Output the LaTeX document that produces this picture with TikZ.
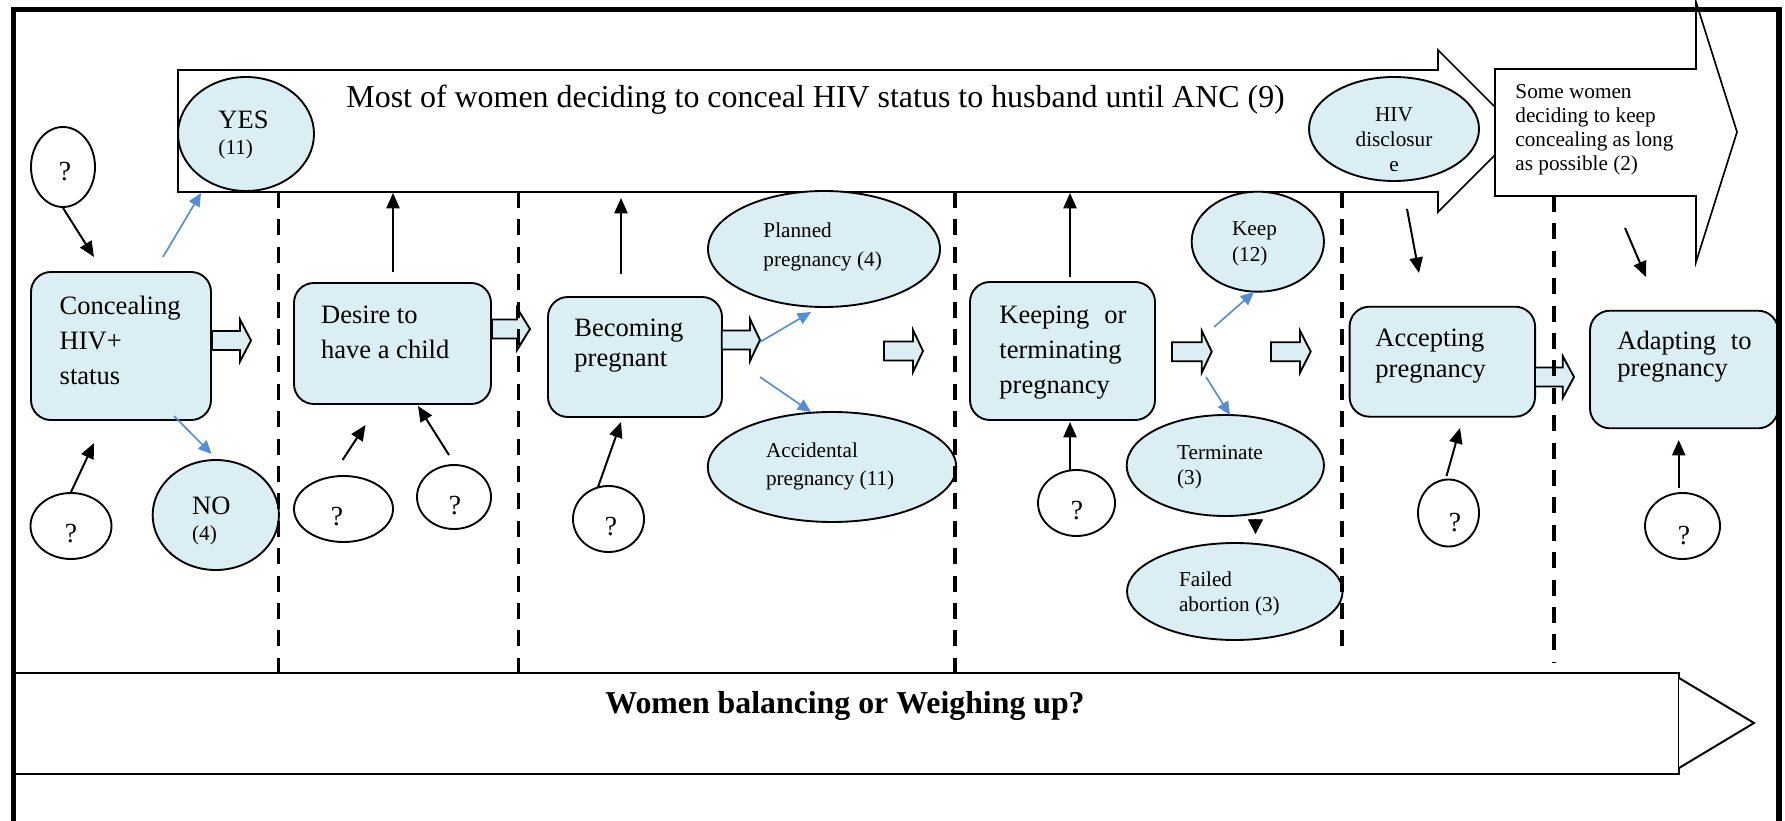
\documentclass[tikz,border=0pt]{standalone}
\usepackage{fontspec}
\setmainfont{Liberation Serif}
\usetikzlibrary{shapes.geometric,arrows.meta}
\definecolor{lb}{HTML}{DAEEF3}
\definecolor{ab}{RGB}{84,141,212}
\newcommand\px{0.4525pt}
\newcommand\blockarr[4]{\draw[blk] (#1,#4-9.5) -- (#2,#4-9.5) -- (#2,#4-21) -- (#3,#4) -- (#2,#4+21) -- (#2,#4+9.5) -- (#1,#4+9.5) -- cycle;}
\begin{document}
\begin{tikzpicture}[x=0.4525pt,y=-0.4525pt,
  box/.style={draw, line width=0.85pt, fill=lb, rounded corners=9pt, inner sep=0pt},
  bell/.style={ellipse, draw, line width=0.85pt, fill=lb, inner sep=0pt},
  qell/.style={ellipse, draw, line width=0.85pt, fill=white, inner sep=0pt},
  big/.style={font=\fontsize{12}{14}\selectfont, inner sep=0pt, anchor=base west},
  small/.style={font=\fontsize{9.6}{11}\selectfont, inner sep=0pt, anchor=base west},
  qtxt/.style={font=\fontsize{12.5}{14}\selectfont, inner sep=0pt, anchor=base},
  arr/.style={line width=0.9pt, -{Triangle[length=7pt,width=6pt]}},
  barr/.style={line width=0.75pt, ab, -{Triangle[length=6pt,width=5.4pt]}},
  blk/.style={draw, line width=0.85pt, fill=lb, line join=miter},
  vdash/.style={line width=1.7pt, dash pattern=on 7.2pt off 5.2pt},
]
\useasboundingbox (0,0) rectangle (1785,821);
\clip (0,0) rectangle (1785,821);

% top banner arrow
\draw[line width=0.75pt, fill=white, line join=miter] (178,70) -- (1438,70) -- (1438,50) -- (1519,131) -- (1438,212) -- (1438,192) -- (178,192) -- cycle;
\node[font=\fontsize{14.45}{17}\selectfont, anchor=base west, inner sep=0pt] (bantxt) at (346,108) {Most of women deciding to conceal HIV status to husband until ANC (9)};

% some women block arrow
\draw[line width=0.75pt, fill=white, line join=miter] (1495,69) -- (1696,69) -- (1696,2) -- (1737,132) -- (1696,262) -- (1696,196) -- (1495,196) -- cycle;
\node[small] (sw1) at (1515,98.3) {Some women};
\node[small] (sw2) at (1515,122.7) {deciding to keep};
\node[small] (sw3) at (1515,146.7) {concealing as long};
\node[small] (sw4) at (1515,170.7) {as possible (2)};

% bottom arrow
\draw[line width=0.9pt, fill=white] (13.5,673) rectangle (1679,774);
\draw[line width=0.9pt, fill=white, line join=miter] (1679,678) -- (1754,723) -- (1679,768);
\node[font=\fontsize{14.4}{17}\selectfont\bfseries, anchor=base west, inner sep=0pt] (weigh) at (605,713) {Women balancing or Weighing up?};

% main boxes
\node[box, minimum width=180*\px, minimum height=148*\px] (conc) at (121,346) {};
\node[box, minimum width=197*\px, minimum height=121*\px] (desire) at (392.5,343.5) {};
\node[box, minimum width=174*\px, minimum height=120*\px] (becom) at (635,357) {};
\node[box, minimum width=185*\px, minimum height=138*\px] (keeping) at (1062.5,351) {};
\node[box, minimum width=185.5*\px, minimum height=110*\px] (accept) at (1442.3,361.7) {};
\node[box, minimum width=188*\px, minimum height=117.6*\px] (adapt) at (1684,369.5) {};

\node[big] at (59.3,315) {Concealing};
\node[big] at (59.3,350) {HIV+};
\node[big] at (59.3,385) {status};
\node[big] at (320.7,323.3) {Desire to};
\node[big] at (320.7,358.3) {have a child};
\node[big] at (574,336.7) {Becoming};
\node[big] at (574,367) {pregnant};
\node[big] at (999,323.3) {Keeping};
\node[big, anchor=base east] at (1127,323.3) {or};
\node[big] at (999,358.3) {terminating};
\node[big] at (999,393.3) {pregnancy};
\node[big] at (1375,346.7) {Accepting};
\node[big] at (1375,377.3) {pregnancy};
\node[big] at (1617,349.3) {Adapting};
\node[big, anchor=base east] at (1752,349.3) {to};
\node[big] at (1617,377) {pregnancy};

% blue ellipses
\node[bell, minimum width=136*\px, minimum height=114*\px] (yes) at (246,134) {};
\node[big] at (218,128.3) {YES};
\node[small] at (218,155) {(11)};
\node[bell, minimum width=126.3*\px, minimum height=110*\px] (no) at (215.8,515) {};
\node[big] at (191.7,514) {NO};
\node[small] at (191.7,540) {(4)};
\node[bell, minimum width=232*\px, minimum height=116*\px] (planned) at (824,249) {};
\node[small] at (763,237.3) {Planned};
\node[small] at (763,266.7) {pregnancy (4)};
\node[bell, minimum width=248.5*\px, minimum height=110*\px] (accid) at (832,467) {};
\node[small] at (765.6,457.3) {Accidental};
\node[small] at (765.6,486) {pregnancy (11)};
\node[bell, minimum width=170*\px, minimum height=104*\px] (hiv) at (1394,129) {};
\node[small, anchor=base] at (1394,122) {HIV};
\node[small, anchor=base] at (1394,147) {disclosur};
\node[small, anchor=base] at (1394,172) {e};
\node[bell, minimum width=132.3*\px, minimum height=100*\px] (keep) at (1257.8,241.7) {};
\node[small] at (1231.7,236) {Keep};
\node[small] at (1231.7,261.7) {(12)};
\node[bell, minimum width=197.3*\px, minimum height=101*\px] (term) at (1225.3,465.5) {};
\node[small] at (1176.7,459.3) {Terminate};
\node[small] at (1176.7,485) {(3)};
\node[bell, minimum width=215.6*\px, minimum height=97*\px] (failed) at (1234.8,591.5) {};
\node[small] at (1178.6,586.7) {Failed};
\node[small] at (1178.6,611.7) {abortion (3)};

% question ellipses
\node[qell, minimum width=64*\px, minimum height=80*\px] (q1) at (63,167) {};
\node[qtxt] at (65,181) {?};
\node[qell, minimum width=81*\px, minimum height=66*\px] (q2) at (71,526) {};
\node[qtxt] at (71,542) {?};
\node[qell, minimum width=99*\px, minimum height=66*\px] (q3) at (343.5,509) {};
\node[qtxt] at (337,525) {?};
\node[qell, minimum width=74*\px, minimum height=64*\px] (q4) at (454,497) {};
\node[qtxt] at (455,514) {?};
\node[qell, minimum width=71*\px, minimum height=66*\px] (q5) at (608.5,519) {};
\node[qtxt] at (611,535) {?};
\node[qell, minimum width=77*\px, minimum height=66*\px] (q6) at (1076.5,503) {};
\node[qtxt] at (1077,519) {?};
\node[qell, minimum width=61*\px, minimum height=67*\px] (q7) at (1448.5,513) {};
\node[qtxt] at (1455,531) {?};
\node[qell, minimum width=75*\px, minimum height=66*\px] (q8) at (1682.5,526) {};
\node[qtxt] at (1684,544) {?};

% hollow block arrows
\blockarr{212}{240}{251}{340.5}
\blockarr{492}{517}{530}{329}
\blockarr{721.7}{750}{760}{340}
\blockarr{884}{913}{923}{351}
\blockarr{1172}{1201.7}{1211.7}{351.7}
\blockarr{1271}{1300}{1310.7}{351.7}
\blockarr{1535}{1562.7}{1574}{377}

% connector end points
\coordinate (c1) at (94,257);
\coordinate (c2) at (94,443);
\coordinate (s3) at (393,272); \coordinate (c3) at (393,193);
\coordinate (s4) at (342.5,460); \coordinate (c4) at (365.5,425);
\coordinate (s5) at (449,455); \coordinate (c5) at (418,406);
\coordinate (s6) at (621,274); \coordinate (c6) at (621,198);
\coordinate (s7) at (598,487); \coordinate (c7) at (621,422);
\coordinate (s8) at (1070,277); \coordinate (c8) at (1070,193);
\coordinate (s9) at (1070,470); \coordinate (c9) at (1070,422);
\coordinate (s10) at (1407,209); \coordinate (c10) at (1419,273);
\coordinate (s11) at (1625,228); \coordinate (c11) at (1646,277);
\coordinate (s12) at (1446.5,476); \coordinate (c12) at (1460,428);
\coordinate (s13) at (1678.7,488); \coordinate (c13) at (1678.7,440);

\draw[arr] (q1.south) -- (c1);
\draw[arr] (q2.north) -- (c2);
\draw[arr] (s3) -- (c3);
\draw[arr] (s4) -- (c4);
\draw[arr] (s5) -- (c5);
\draw[arr] (s6) -- (c6);
\draw[arr] (s7) -- (c7);
\draw[arr] (s8) -- (c8);
\draw[arr] (s9) -- (c9);
\draw[arr] (s10) -- (c10);
\draw[arr] (s11) -- (c11);
\draw[arr] (s12) -- (c12);
\draw[arr] (s13) -- (c13);

% terminate -> failed arrowhead
\coordinate (ts) at (1255.5,519);
\coordinate (te) at (1255.5,534);
\draw[line width=0.3pt, -{Triangle[length=6.6pt,width=6.8pt]}] (ts) -- (te);

% blue connectors
\coordinate (b1s) at (163,257); \coordinate (b1e) at (201,193);
\coordinate (b2s) at (174,416); \coordinate (b2e) at (211.6,454);
\coordinate (b3s) at (760,342); \coordinate (b3e) at (811,312);
\coordinate (b4s) at (760,377); \coordinate (b4e) at (811,412);
\coordinate (b5s) at (1214,327); \coordinate (b5e) at (1254,292);
\coordinate (b6s) at (1206,377); \coordinate (b6e) at (1230,415);
\draw[barr] (b1s) -- (b1e);
\draw[barr] (b2s) -- (b2e);
\draw[barr] (b3s) -- (b3e);
\draw[barr] (b4s) -- (b4e);
\draw[barr] (b5s) -- (b5e);
\draw[barr] (b6s) -- (b6e);

% dashed dividers
\draw[vdash] (278.6,192) -- (278.6,682);
\draw[vdash] (518.5,192) -- (518.5,672);
\draw[vdash] (955,192) -- (955,682);
\draw[vdash] (1342,192) -- (1342,655);
\draw[vdash] (1554,196) -- (1554,662);

% frame
\draw[line width=2.4pt, line join=miter] (13.5,830) -- (13.5,9.5) -- (1779,9.5) -- (1779,830);
\end{tikzpicture}
\end{document}
